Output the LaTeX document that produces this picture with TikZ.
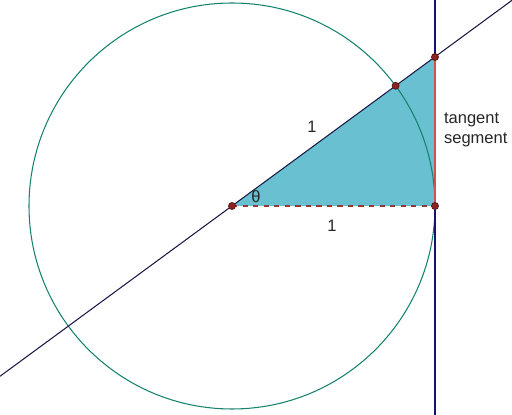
\documentclass[tikz,border=0pt]{standalone}
\usepackage{fontspec}
\setmainfont{Liberation Sans}
\usetikzlibrary{positioning, calc}
\definecolor{kreis}{RGB}{20,130,110}
\definecolor{garis}{RGB}{25,25,70}
\definecolor{isian}{RGB}{104,192,208}
\definecolor{titik}{RGB}{140,35,35}
\definecolor{merah}{RGB}{215,80,80}
\begin{document}
\begin{tikzpicture}[x=0.02cm, y=-0.02cm, font=\fontsize{9.4}{11}\selectfont,
        dot/.style={circle, draw=titik!60!black, fill=titik, inner sep=0pt, minimum size=4pt},
        lbl/.style={inner sep=1pt, text=black!85}
    ]
        \useasboundingbox (0,0) rectangle (512,415);
        \coordinate (O) at (232,206);
        \coordinate (A) at (435,206);
        \coordinate (T) at (435,57);
        \coordinate (P) at (395.6,85.8);
        \coordinate (L1) at (0,376.3);
        \coordinate (L2) at (512,0.3);
        \coordinate (V1) at (435,0);
        \coordinate (V2) at (435,415);
        % sector fill
        \fill[isian] (O) -- (T) -- (A) -- cycle;
        \draw[kreis, line width=0.6pt] (O) circle (203);
        \draw[garis!80!blue, line width=0.6pt] (V1) -- (V2);
        \draw[garis, line width=0.6pt] (L1) -- (L2);
        \draw[merah, line width=0.6pt] (A) -- (T);
        \draw[merah!70!black, dashed, line width=0.6pt] (O) -- (A);
        % points
        \node[dot] (o) at (O) {};
        \node[dot] (a) at (A) {};
        \node[dot] (t) at (T) {};
        \node[dot] (p) at (P) {};
        % labels
        \node[lbl] (r1) at (312,127) {1};
        \node[lbl] (r2) at (332,226) {1};
        \node[lbl] (th) at (256,197) {θ};
        \node[lbl, align=left, anchor=west] (ts) at (442,130) {tangent\\segment};
    \end{tikzpicture}
\end{document}
